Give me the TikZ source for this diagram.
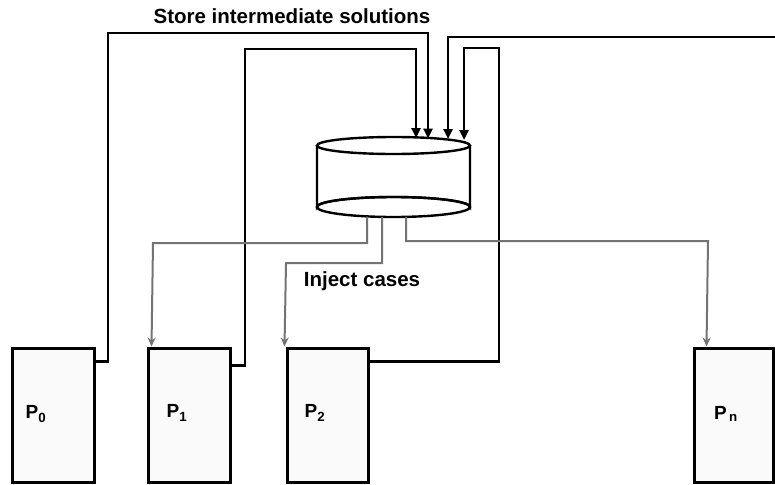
\documentclass[tikz,border=0pt]{standalone}
\usepackage{fontspec}
\setmainfont{Liberation Sans}
\usetikzlibrary{arrows.meta,calc}
\begin{document}
\begin{tikzpicture}[x=1pt,y=-1pt,
  procbox/.style={draw=black,line width=3pt,fill=black!2,minimum height=134pt,inner sep=0pt},
  plabel/.style={font=\bfseries\fontsize{19}{21}\selectfont,inner sep=0pt},
  storeline/.style={draw=black,line width=2.4pt,-{Triangle[length=10pt,width=9pt]}},
  injectline/.style={draw=black!55,line width=2pt,-{Stealth[length=9pt,width=8pt]}},
  caption/.style={font=\bfseries\fontsize{20.5}{22}\selectfont,inner sep=0pt},
  cylline/.style={draw=black,line width=2.4pt}]
\useasboundingbox (0,0) rectangle (775,484);
% processor boxes
\node[procbox,minimum width=82pt] (p0) at (53,415) {};
\node[procbox,minimum width=82pt] (p1) at (189,415) {};
\node[procbox,minimum width=81pt] (p2) at (327.5,415) {};
\node[procbox,minimum width=79pt] (pn) at (733.5,415) {};
\node[plabel] (l0) at (36,414) {P$_{\mathbf 0}$};
\node[plabel] (l1) at (177,413) {P$_{\mathbf 1}$};
\node[plabel] (l2) at (315,413) {P$_{\mathbf 2}$};
\node[plabel] (ln) at (726,414) {P$_{\,\mathbf n}$};
% cylinder (store)
\node[inner sep=0pt,minimum width=153pt,minimum height=80pt] (cyl) at (393.5,177) {};
\draw[cylline,fill=white] (317,145.5) -- (317,207) arc[start angle=180,end angle=360,x radius=76.5,y radius=10] -- (470,145.5);
\draw[cylline] (393.5,207) ellipse[x radius=76.5,y radius=10];
\draw[cylline,fill=white] (393.5,145.5) ellipse[x radius=76.5,y radius=8.5];
% arrow end points on the store
\coordinate (s0) at (428,138.5);
\coordinate (s1) at (416,138);
\coordinate (s2) at (464,140);
\coordinate (sr) at (448,139);
\coordinate (redge) at (775,37);
\coordinate (o1) at (367,216.5);
\coordinate (o2) at (382,217);
\coordinate (o3) at (406,217);
% store intermediate solutions
\draw[storeline] ($(p0.north east)+(0,15)$) -| (108,33) -| (s0);
\draw[storeline] ($(p1.north east)+(0,19)$) -| (245,49) -| (s1);
\draw[storeline] ($(p2.north east)+(0,15)$) -| (499,48) -| (s2);
\draw[storeline] (redge) -| (sr);
% inject cases
\draw[injectline] (o1) |- (153,243) -- ($(p1.north west)+(5,0)$);
\draw[injectline] (o2) |- (286,263) -- ($(p2.north west)+(-1,0)$);
\draw[injectline] (o3) |- (708,241) -- ($(pn.north west)+(14,0)$);
% captions
\node[caption] (t1) at (292,16) {Store intermediate solutions};
\node[caption] (t2) at (362,281) {Inject cases};
\end{tikzpicture}
\end{document}
